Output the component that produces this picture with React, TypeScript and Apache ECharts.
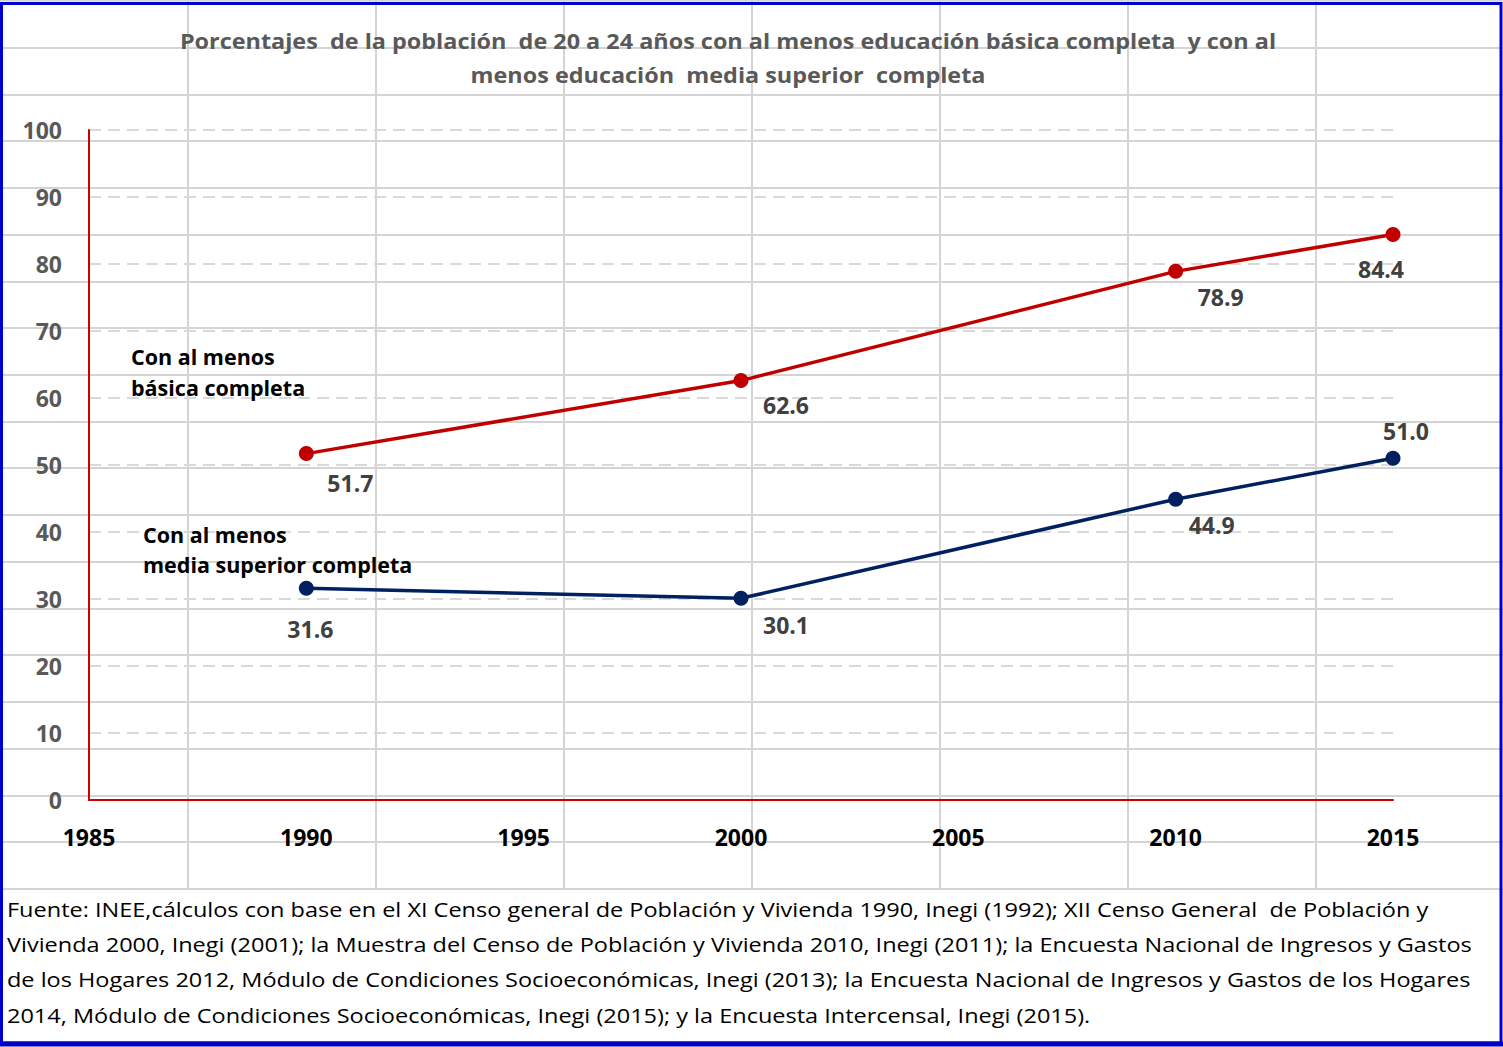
import React, { useEffect, useRef } from "react";
import * as echarts from "echarts";

const years = [1990, 2000, 2010, 2015];
const basica = [51.7, 62.6, 78.9, 84.4];
const mediaSuperior = [31.6, 30.1, 44.9, 51.0];
const basicaLabelOffsets = [[44, 29], [45, 24], [45, 26], [-12, 34]];
const mediaLabelOffsets = [[4, 41], [45, 27], [36, 26], [13, -27]];

const titleLines = [
  "Porcentajes  de la población  de 20 a 24 años con al menos educación básica completa  y con al",
  "menos educación  media superior  completa",
];
const footLines = [
  "Fuente: INEE,cálculos con base en el XI Censo general de Población y Vivienda 1990, Inegi (1992); XII Censo General  de Población y",
  "Vivienda 2000, Inegi (2001); la Muestra del Censo de Población y Vivienda 2010, Inegi (2011); la Encuesta Nacional de Ingresos y Gastos",
  "de los Hogares 2012, Módulo de Condiciones Socioeconómicas, Inegi (2013); la Encuesta Nacional de Ingresos y Gastos de los Hogares",
  "2014, Módulo de Condiciones Socioeconómicas, Inegi (2015); y la Encuesta Intercensal, Inegi (2015).",
];
const basicaNote = ["Con al menos", "básica completa"];
const mediaNote = ["Con al menos", "media superior completa"];

const FONT = "'Open Sans', 'Noto Sans', sans-serif";

export default function App() {
  const ref = useRef<HTMLDivElement>(null);
  useEffect(() => {
    document.body.style.margin = "0";
    const chart = echarts.init(ref.current!, undefined, { renderer: "svg" });

    const sheet: any[] = [];
    for (let k = 1; k <= 7; k++) {
      sheet.push({
        type: "line",
        z: -10,
        shape: { x1: 188 * k, y1: 0, x2: 188 * k, y2: 889 },
        style: { stroke: "#d4d4d4", lineWidth: 2 },
      });
    }
    for (let k = 0; k <= 18; k++) {
      const y = Math.round(48 + 46.72 * k);
      sheet.push({
        type: "line",
        z: -10,
        shape: { x1: 0, y1: y, x2: 1503, y2: y },
        style: { stroke: "#d4d4d4", lineWidth: 2 },
      });
    }
    sheet.push({
      type: "line",
      z: -10,
      shape: { x1: 0, y1: 0.5, x2: 1503, y2: 0.5 },
      style: { stroke: "#d4d4d4", lineWidth: 2 },
    });

    const mkData = (vals: number[], offs: number[][]) =>
      vals.map((v, i) => ({
        value: [years[i], v],
        label: { offset: offs[i] },
      }));

    const labelBase = {
      show: true,
      position: "inside",
      align: "center",
      verticalAlign: "middle",
      fontFamily: FONT,
      fontWeight: "bold",
      fontSize: 23,
      color: "#404040",
      formatter: (p: any) => p.value[1].toFixed(1),
    };

    chart.setOption({
      animation: false,
      backgroundColor: "transparent",
      grid: { left: 89, right: 110, top: 130, bottom: 247, containLabel: false },
      xAxis: {
        type: "value",
        min: 1985,
        max: 2015,
        interval: 5,
        axisLine: { show: true, onZero: false, lineStyle: { color: "#cc0000", width: 2 } },
        axisTick: { show: false },
        splitLine: { show: false },
        axisLabel: {
          margin: 25,
          fontFamily: FONT,
          fontWeight: "bold",
          fontSize: 23,
          color: "#000000",
          formatter: (v: number) => String(v),
        },
      },
      yAxis: {
        type: "value",
        min: 0,
        max: 100,
        interval: 10,
        axisLine: { show: true, lineStyle: { color: "#cc0000", width: 2 } },
        axisTick: { show: false },
        splitLine: { show: true, lineStyle: { color: "#d9d9d9", type: [12, 7], width: 2 } },
        axisLabel: {
          margin: 27,
          fontFamily: FONT,
          fontWeight: "bold",
          fontSize: 23,
          color: "#595959",
        },
      },
      graphic: [
        ...sheet,
        {
          type: "rect",
          z: 100,
          shape: { x: 1.5, y: 3.5, width: 1499.5, height: 1039.5 },
          style: { fill: "none", stroke: "#0000cc", lineWidth: 3 },
        },
        {
          type: "line",
          z: 100,
          shape: { x1: 0, y1: 1044, x2: 1503, y2: 1044 },
          style: { stroke: "#0000cc", lineWidth: 5 },
        },
        ...titleLines.map((t, i) => ({
          type: "text",
          z: 50,
          x: 728,
          y: 41 + i * 34,
          scaleX: 1.064,
          style: {
            text: t,
            fill: "#595959",
            font: `bold 22px ${FONT}`,
            textAlign: "center",
            textVerticalAlign: "middle",
          },
        })),
        ...basicaNote.map((t, i) => ({
          type: "text",
          z: 50,
          x: 131,
          y: 356 + i * 31,
          style: { text: t, fill: "#000", font: `bold 21.5px ${FONT}`, textVerticalAlign: "middle" },
        })),
        ...mediaNote.map((t, i) => ({
          type: "text",
          z: 50,
          x: 143,
          y: 534 + i * 30,
          style: { text: t, fill: "#000", font: `bold 21.5px ${FONT}`, textVerticalAlign: "middle" },
        })),
        ...footLines.map((t, i) => ({
          type: "text",
          z: 50,
          x: 7,
          y: 909 + i * 35.3,
          scaleX: 1.175,
          style: { text: t, fill: "#000", font: `20px ${FONT}`, textVerticalAlign: "middle" },
        })),
      ],
      series: [
        {
          name: "Con al menos básica completa",
          type: "line",
          data: mkData(basica, basicaLabelOffsets),
          symbol: "circle",
          symbolSize: 15,
          itemStyle: { color: "#c00000" },
          lineStyle: { color: "#c00000", width: 3.5 },
          label: labelBase,
          z: 5,
        },
        {
          name: "Con al menos media superior completa",
          type: "line",
          data: mkData(mediaSuperior, mediaLabelOffsets),
          symbol: "circle",
          symbolSize: 15,
          itemStyle: { color: "#002060" },
          lineStyle: { color: "#002060", width: 3.5 },
          label: labelBase,
          z: 5,
        },
      ],
    });
    return () => chart.dispose();
  }, []);
  return <div ref={ref} style={{ width: 1503, height: 1047 }} />;
}
